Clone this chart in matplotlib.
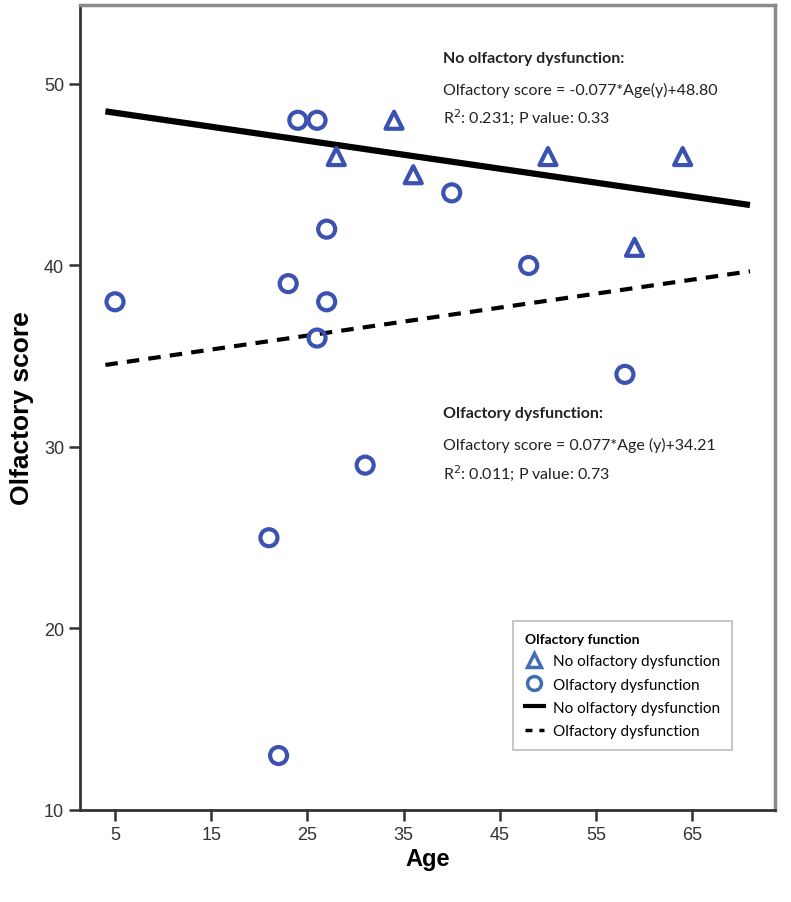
import matplotlib.pyplot as plt
from matplotlib.lines import Line2D

# data
tri_age = [28, 34, 36, 50, 59, 64]
tri_score = [46, 48, 45, 46, 41, 46]
circ_age = [24, 26, 40, 27, 48, 5, 23, 27, 26, 58, 31, 21, 22]
circ_score = [48, 48, 44, 42, 40, 38, 39, 38, 36, 34, 29, 25, 13]

fit_age = [4, 71]
fit_no_dys = [48.49, 43.33]
fit_dys = [34.52, 39.68]

x_ticks = [5, 15, 25, 35, 45, 55, 65]
y_ticks = [10, 20, 30, 40, 50]

blue = '#3b52b0'
narrow = ['Liberation Sans Narrow', 'Liberation Sans', 'DejaVu Sans']
body = ['Lato', 'DejaVu Sans']

fig = plt.figure(figsize=(7.91, 9.03), dpi=100)
ax = fig.add_axes([80 / 791, 1 - 811 / 903, 695 / 791, 805 / 903])

ax.plot(fit_age, fit_no_dys, color='black', lw=4.5, solid_capstyle='butt')
ax.plot(fit_age, fit_dys, color='black', lw=3, ls=(0, (3, 2.2)))

ax.scatter(tri_age, tri_score, marker='^', s=150, facecolors='none',
           edgecolors=blue, linewidths=3, zorder=3)
ax.scatter(circ_age, circ_score, marker='o', s=150, facecolors='none',
           edgecolors=blue, linewidths=3, zorder=3)

ax.set_xlim(1.36, 73.6)
ax.set_ylim(10, 54.35)
ax.set_xticks(x_ticks)
ax.set_yticks(y_ticks)
ax.tick_params(axis='both', length=8, width=1.8, color='#333333',
               labelsize=13, labelcolor='#333333')
for lab in ax.get_xticklabels() + ax.get_yticklabels():
    lab.set_family(narrow)

for side in ['left', 'bottom']:
    ax.spines[side].set_color('#333333')
    ax.spines[side].set_linewidth(2)
for side in ['top', 'right']:
    ax.spines[side].set_color('#8a8a8a')
    ax.spines[side].set_linewidth(2.5)

ax.set_xlabel('Age', family=narrow, fontsize=17, fontweight='bold')
ax.set_ylabel('Olfactory score', family=narrow, fontsize=19, fontweight='bold')
ax.xaxis.set_label_coords(0.5, (811 - 860) / 805)
ax.xaxis.label.set_va('center')
ax.yaxis.set_label_coords((22 - 80) / 695, 0.5)
ax.yaxis.label.set_va('center')

# annotations
def px_text(x, y, s, **kw):
    fig.text(x / 791, 1 - y / 903, s, va='center', ha='left', family=body,
             color='#222222', **kw)

px_text(443, 59, 'No olfactory dysfunction:', fontsize=11.5, fontweight='bold')
px_text(443, 90, 'Olfactory score = -0.077*Age(y)+48.80', fontsize=11.5)
px_text(443, 117, 'R$^2$: 0.231; P value: 0.33', fontsize=11.5)
px_text(443, 414, 'Olfactory dysfunction:', fontsize=11.5, fontweight='bold')
px_text(443, 445, 'Olfactory score = 0.077*Age (y)+34.21', fontsize=11.5)
px_text(443, 473, 'R$^2$: 0.011; P value: 0.73', fontsize=11.5)

handles = [
    Line2D([], [], marker='^', ls='none', mfc='none', mec='#3f6fb0', mew=2.5, ms=10),
    Line2D([], [], marker='o', ls='none', mfc='none', mec='#3f6fb0', mew=2.5, ms=10),
    Line2D([], [], color='black', lw=3),
    Line2D([], [], color='black', lw=2.5, ls=(0, (2, 2))),
]
labels = ['No olfactory dysfunction', 'Olfactory dysfunction',
          'No olfactory dysfunction', 'Olfactory dysfunction']
leg = ax.legend(handles, labels, loc='upper left',
                bbox_to_anchor=((513 - 80) / 695, (811 - 622) / 805),
                borderaxespad=0,
                title='Olfactory function', alignment='left',
                prop={'family': body, 'size': 11}, handlelength=1.2,
                frameon=True, fancybox=False, edgecolor='#aaaaaa',
                borderpad=0.8, labelspacing=0.6, handletextpad=0.6)
leg.get_title().set_fontweight('bold')
leg.get_title().set_family(body)
leg.get_title().set_fontsize(10)
leg.get_frame().set_linewidth(1.2)

fig.savefig('out.png', dpi=100)
